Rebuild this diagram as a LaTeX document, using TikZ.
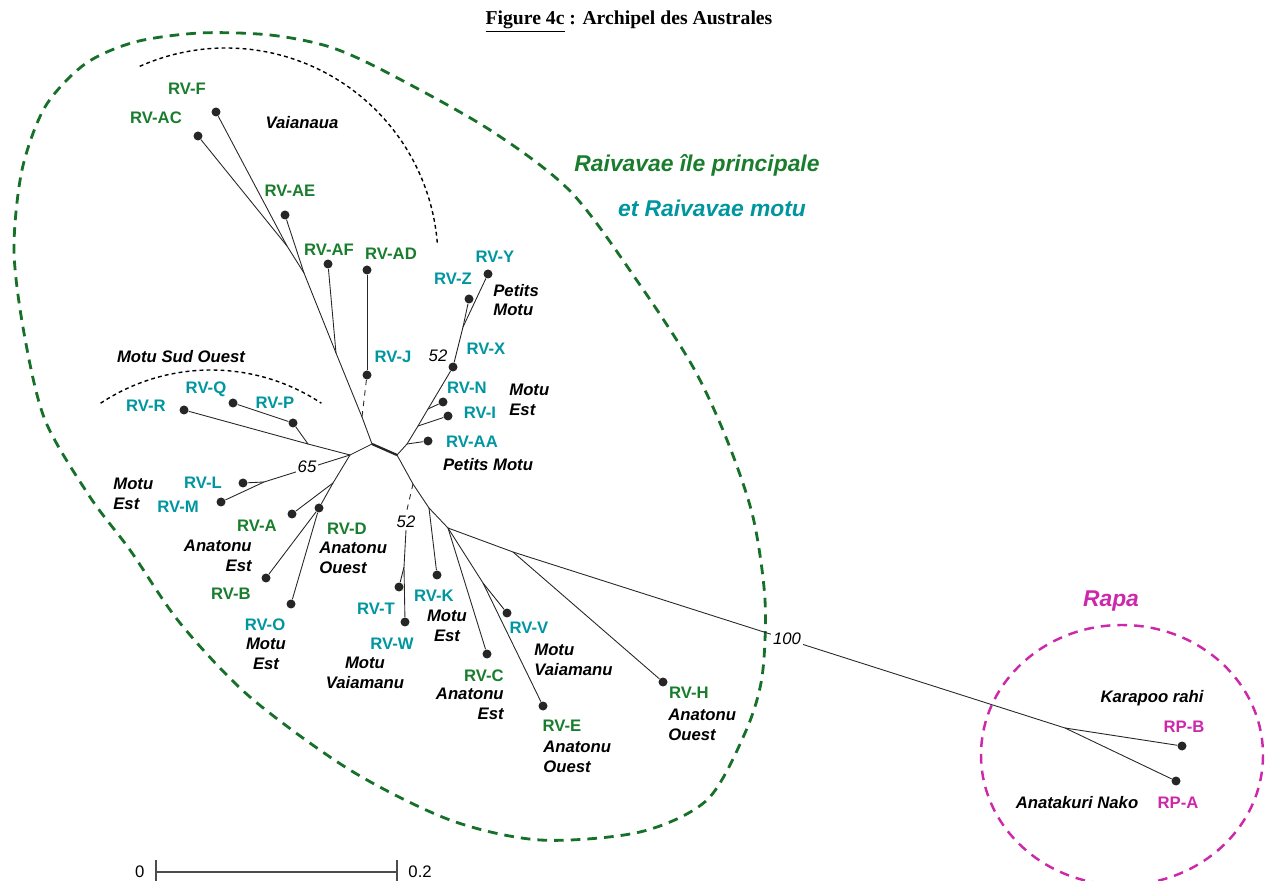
\documentclass[tikz,border=0pt]{standalone}
\usepackage{fontspec}
\setmainfont{Liberation Serif}
\setsansfont{Liberation Sans}
\usetikzlibrary{positioning}
\definecolor{ilegreen}{RGB}{25,125,45}
\definecolor{motuteal}{RGB}{0,150,160}
\definecolor{rapamag}{RGB}{205,40,170}
\newcommand{\lblfont}{\sffamily\bfseries\fontsize{9.5}{11.2}\selectfont}
\newcommand{\sitefont}{\sffamily\bfseries\itshape\fontsize{9.5}{11.2}\selectfont}
\newcommand{\bootfont}{\sffamily\itshape\fontsize{9.5}{11}\selectfont}
\newcommand{\groupfont}{\sffamily\bfseries\itshape\fontsize{13}{15}\selectfont}
\newcommand{\titlefont}{\rmfamily\bfseries\fontsize{11.2}{13}\selectfont}

\begin{document}
\begin{tikzpicture}[x=0.02cm, y=-0.02cm, every node/.style={font=\lblfont},
    leaf/.style={circle, fill=black!85, inner sep=0pt, minimum size=1.8mm},
    branch/.style={line width=0.5pt, black!85},
    ile/.style={text=ilegreen}, motu/.style={text=motuteal},
    site/.style={font=\sitefont, inner sep=0pt},
    boot/.style={font=\bootfont, inner sep=1pt},
    group/.style={font=\groupfont}]
    \useasboundingbox (0,0) rectangle (1268,881);
    \node[font=\titlefont] (title) at (629,22) {\underline{Figure 4c} : Archipel des Australes};

    \draw[ilegreen!90!black, line width=1.6pt, dash pattern=on 5.5pt off 4pt] plot[smooth cycle] coordinates {
        (200,33) (270,35) (330,47) (388,73) (490,130) (571,192) (640,285) (693,367) (727,440) (753,517)
        (765,600) (762,677) (745,733) (707,800) (640,832) (540,840) (450,820) (350,770) (250,697)
        (180,623) (130,550) (90,497) (45,420) (24,333) (14,250) (22,170) (45,107) (85,64) (135,42)};
    \draw[rapamag, line width=1.4pt, dash pattern=on 5.5pt off 4pt] (1122,755) ellipse [x radius=141, y radius=130];
    \draw[line width=0.8pt, dash pattern=on 2.2pt off 1.8pt] (226,260) ++(-114:212) arc[start angle=-114, end angle=-4, radius=212];
    \draw[line width=0.8pt, dash pattern=on 2.2pt off 1.8pt] (211,570) ++(-123.5:200) arc[start angle=-123.5, end angle=-56.5, radius=200];

    \foreach \n/\x/\y in {F/216/112, AC/198/136, AE/285/215, AF/328/264, AD/367/270, J/367/375,
        Y/488/274, Z/469/299, X/453/367, N/443/402, I/448/416, AA/428/441, R/184/410, Q/233/403,
        P/293/423, L/243/483, M/221/502, A/292/514, D/319/508, B/266/578, O/291/604, T/399/587,
        W/405/622, K/437/575, C/487/654, V/507/613, E/543/706, H/663/682, RPB/1182/746, RPA/1176/781}
        \node[leaf] (\n) at (\x,\y) {};
    \foreach \n/\x/\y in {hubA/372/444, hubB/397/455, nFAC/287/246, nAE/304/273, nAF/336/353,
        nJ/362/417, hubL/350/455, npR/308/444, nLM/264/482, nAD/333/483, nAA/407/444, nI/418/426,
        nN/428/409, nYZ/463/327, n52/413/484, nK/429/508, nCVE/448/528, nVE/483/583, nH/513/552,
        nRapa/1065/728, nTW/404/567}
        \coordinate (\n) at (\x,\y);

    \foreach \a/\b in {F/nFAC, AC/nFAC, nFAC/nAE, AE/nAE, nAE/nAF, AF/nAF, nAF/nJ, nJ/hubA, AD/J,
        hubA/hubL, R/npR, npR/hubL, Q/P, P/npR, hubL/nLM, L/nLM, M/nLM, hubL/nAD, nAD/D, A/nAD,
        D/B, D/O, hubB/nAA, AA/nAA, nAA/nI, I/nI, nI/nN, N/nN, nN/X, X/nYZ, nYZ/Y, nYZ/Z,
        hubB/n52, n52/nK, K/nK, nK/nCVE, nCVE/C, nCVE/nVE, nVE/V, nVE/E, nCVE/nH, nH/H,
        nH/nRapa, nRapa/RPB, nRapa/RPA, nTW/T, nTW/W}
        \draw[branch] (\a) -- (\b);
    \draw[branch, line width=1.3pt] (hubA) -- (hubB);
    \draw[branch, dashed] (J) -- (nJ);

    \foreach \n/\x/\y/\s in {F/187/89/ile, AC/156/118/ile, AE/290/191/ile, AF/329/250/ile,
        AD/391/254/ile, Y/495/257/motu, Z/453/279/motu, J/393/357/motu, X/486/349/motu,
        N/467/388/motu, I/480/413/motu, AA/472/442/motu, R/146/406/motu, Q/206/389/motu,
        P/275/403/motu, L/203/483/motu, M/178/507/motu, A/257/526/ile, D/347/529/ile,
        B/231/594/ile, O/265/625/motu, T/376/609/motu, W/392/644/motu, K/434/596/motu,
        C/484/676/ile, V/529/628/motu, E/562/726/ile, H/689/693/ile}
        \node[\s] (l\n) at (\x,\y) {RV-\n};
    \node[text=rapamag] (lRPB) at (1184,727) {RP-B};
    \node[text=rapamag] (lRPA) at (1178,803) {RP-A};

    \node[site] (sVai) at (302,123) {Vaianaua};
    \node[site, align=left, anchor=west] (sPM1) at (493,300) {Petits\\Motu};
    \node[site, align=left, anchor=west] (sME1) at (509,400) {Motu\\Est};
    \node[site] (sPM2) at (488,465) {Petits Motu};
    \node[site] (sMSO) at (181,357) {Motu Sud Ouest};
    \node[site, align=left, anchor=west] (sME2) at (113,494) {Motu\\Est};
    \node[site, align=right, anchor=east] (sAE1) at (252,556) {Anatonu\\Est};
    \node[site, align=left, anchor=west] (sAO1) at (319,558) {Anatonu\\Ouest};
    \node[site, align=center] (sME3) at (266,654) {Motu\\Est};
    \node[site, align=center] (sMV1) at (365,673) {Motu\\Vaiamanu};
    \node[site, align=center] (sME4) at (447,626) {Motu\\Est};
    \node[site, align=right, anchor=east] (sAE2) at (504,704) {Anatonu\\Est};
    \node[site, align=left, anchor=west] (sMV2) at (534,660) {Motu\\Vaiamanu};
    \node[site, align=left, anchor=west] (sAO2) at (543,757) {Anatonu\\Ouest};
    \node[site, align=left, anchor=west] (sAO3) at (668,725) {Anatonu\\Ouest};
    \node[site] (sKar) at (1152,698) {Karapoo rahi};
    \node[site] (sAna) at (1077,803) {Anatakuri Nako};

    \node[boot] (b52a) at (438,356) {52};
    \node[boot, fill=white] (b65) at (307,467) {65};
    \node[boot] (b52b) at (406,522) {52};
    \node[boot, fill=white] (b100) at (787,639) {100};
    \draw[branch, dashed] (n52) -- (b52b.north);
    \draw[branch] (b52b.south) -- (nTW);

    \node[group, text=ilegreen] (gIle) at (697,165) {Raivavae île principale};
    \node[group, text=motuteal] (gMotu) at (712,208) {et Raivavae motu};
    \node[group, text=rapamag] (gRapa) at (1111,601) {Rapa};

    \coordinate (sbL) at (156,872);
    \coordinate (sbR) at (397,872);
    \draw[black!70, line width=0.6pt] (sbL) -- (sbR);
    \draw[black!70, line width=0.6pt] (sbL) ++(0,-12) -- ++(0,24);
    \draw[black!70, line width=0.6pt] (sbR) ++(0,-12) -- ++(0,24);
    \node[font=\sffamily\fontsize{9.5}{11}\selectfont, left=3pt of sbL] (sb0) {0};
    \node[font=\sffamily\fontsize{9.5}{11}\selectfont, right=3pt of sbR] (sb2) {0.2};
\end{tikzpicture}
\end{document}
